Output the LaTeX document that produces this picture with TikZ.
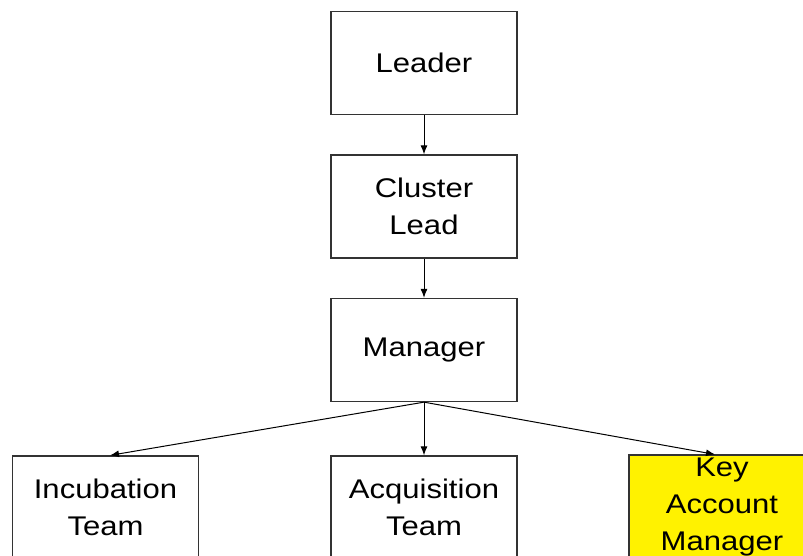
\documentclass[tikz,border=0pt]{standalone}
\usepackage{fontspec}
\setmainfont[FakeStretch=1.15]{Liberation Sans}
\usetikzlibrary{arrows.meta}

\begin{document}
\begin{tikzpicture}[-{Latex[length=9pt,width=7pt]},x=1pt,y=1pt,node distance=143.5pt,line width=1pt]
\tikzstyle{box}=[draw=black!80,line width=1.3pt,minimum width=186pt,minimum height=103pt,align=center,text=black,font=\fontsize{27}{37}\selectfont]
\useasboundingbox (0,0) rectangle (803,-556);
\clip (0,0) rectangle (803,-556);
\node[box] (L) at (424,-63) {Leader};
\node[box][below of=L] (CL) {Cluster\\Lead};
\node[box][below of=CL] (M) {Manager};
\node[box] (IT) at (105.5,-507.5) {Incubation\\Team};
\node[box] (AT) at (424,-507.5) {Acquisition\\Team};
\node[box,fill=yellow] (KAM) at (722,-507.5) {Key\\Account\\Manager};
\path (L)edge(CL)
      (CL)edge(M)
      (M.south)edge([xshift=4.5pt]IT.north)
               edge(AT)
               edge([xshift=-7pt]KAM.north);
\end{tikzpicture}
\end{document}
